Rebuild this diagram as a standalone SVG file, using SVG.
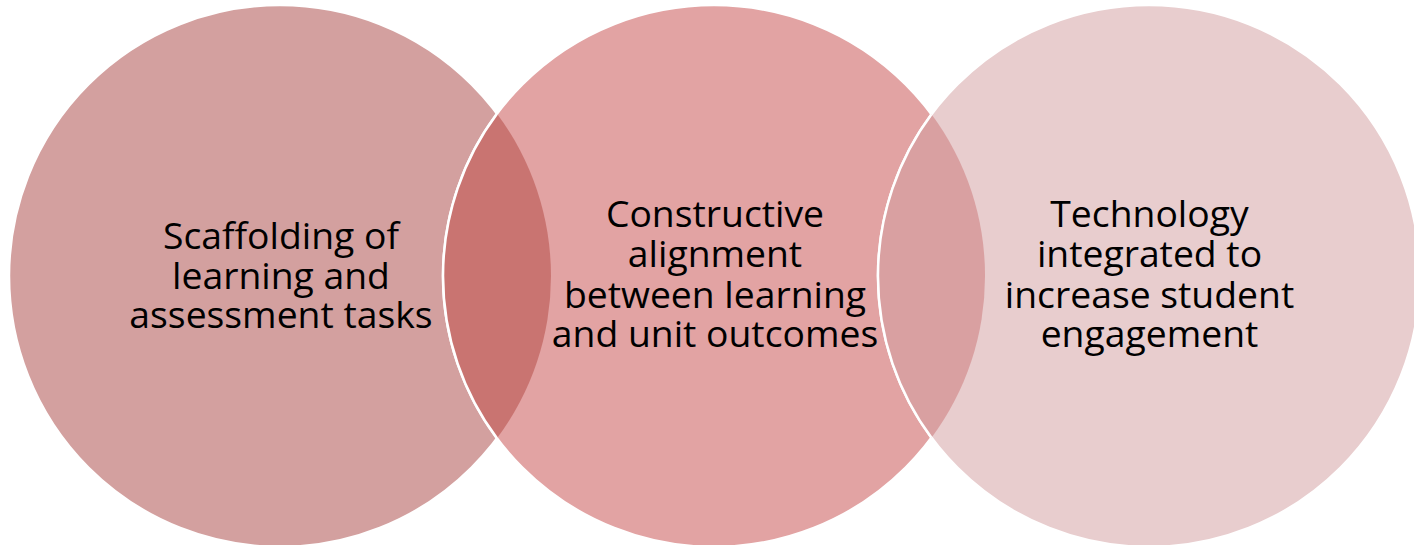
<svg xmlns="http://www.w3.org/2000/svg" width="1414" height="545" viewBox="0 0 1414 545">
  <style>
    .ring { stroke: #FFFFFF; stroke-width: 2.5; }
    .edge { fill: none; stroke: #FFFFFF; stroke-width: 2.5; }
    .label { font-family: "Open Sans", "Noto Sans", "Liberation Sans", sans-serif; font-size: 37.3px; fill: #000000; text-anchor: middle; }
  </style>
  <rect width="1414" height="545" fill="#FFFFFF"/>

  <g id="circle-scaffolding">
    <circle class="ring" cx="280" cy="276" r="271" fill="#D3A09F"/>
  </g>
  <g id="circle-alignment">
    <circle class="ring" cx="714" cy="276" r="271" fill="#E2A3A3"/>
  </g>
  <g id="circle-technology">
    <circle class="ring" cx="1149" cy="276" r="271" fill="#E8CDCE"/>
  </g>

  <!-- overlap lenses -->
  <g id="overlaps">
    <path id="overlap-left" d="M497 113.7 A271 271 0 0 1 497 438.3 A271 271 0 0 1 497 113.7 Z" fill="#C97471"/>
    <path id="overlap-right" d="M931.5 114.3 A271 271 0 0 1 931.5 437.7 A271 271 0 0 1 931.5 114.3 Z" fill="#D9A0A1"/>
    <path class="edge" d="M497 113.7 A271 271 0 0 0 497 438.3"/>
    <path class="edge" d="M931.5 114.3 A271 271 0 0 0 931.5 437.7"/>
  </g>

  <g id="label-scaffolding">
    <text class="label" x="281" y="249">Scaffolding of</text>
    <text class="label" x="281" y="289">learning and</text>
    <text class="label" x="281" y="328">assessment tasks</text>
  </g>
  <g id="label-alignment">
    <text class="label" x="715" y="227">Constructive</text>
    <text class="label" x="715" y="267">alignment</text>
    <text class="label" x="715" y="308">between learning</text>
    <text class="label" x="715" y="347">and unit outcomes</text>
  </g>
  <g id="label-technology">
    <text class="label" x="1149.5" y="227">Technology</text>
    <text class="label" x="1149.5" y="267">integrated to</text>
    <text class="label" x="1149.5" y="308">increase student</text>
    <text class="label" x="1149.5" y="347">engagement</text>
  </g>
</svg>
